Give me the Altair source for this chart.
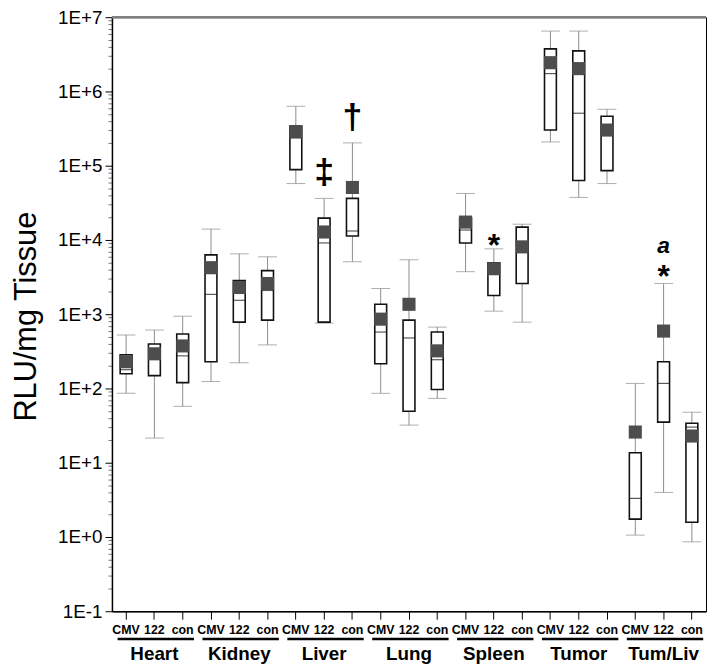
import altair as alt
import pandas as pd

tissues = ["Heart", "Kidney", "Liver", "Lung", "Spleen", "Tumor", "Tum/Liv"]
groups = ["CMV", "122", "con"]

# per box, order: tissue-major, group-minor
whisker_lo = [86, 21.5, 57.5, 124, 222, 386, 57500, 759, 5090, 86, 32.1, 73.6,
              3740, 1100, 782, 209000, 37400, 57500, 1.06, 3.98, 0.86]
q1 = [158, 149, 120, 229, 782, 832, 88500, 782, 11300, 215, 49.3, 97,
      9120, 1790, 2590, 302000, 63100, 85800, 1.74, 35.2, 1.58]
median = [179, 331, 275, 1850, 1540, 2090, 260000, 9120, 13200, 575, 479, 244,
          13600, 3630, 7130, 1740000, 509000, 284000, 3.31, 117, 30.2]
q3 = [284, 398, 541, 6300, 2840, 3860, 341000, 19700, 36300, 1360, 832, 575,
      19700, 4930, 14900, 3740000, 3520000, 464000, 13.6, 229, 34.1]
whisker_hi = [525, 612, 940, 14000, 6500, 5930, 631000, 36300, 203000, 2220, 5410, 671,
              42300, 7590, 16300, 6500000, 6500000, 575000, 117, 2590, 47.9]
mean = [229, 293, 374, 4230, 2290, 2590, 284000, 12800, 50900, 858, 1360, 321,
        17400, 4100, 8070, 2440000, 2030000, 302000, 25.9, 593, 22.9]

# significance marks
dag_slot = ["Liver|122", "Liver|con"]
dag_value = [57500, 311000]
dag_text = ["\u2021", "\u2020"]
star_slot = ["Spleen|122", "Tum/Liv|122"]
star_value = [6120, 2360]
a_slot = ["Tum/Liv|122"]
a_value = [6710]

slots = [f"{t}|{g}" for t in tissues for g in groups]

df = pd.DataFrame({
    "slot": slots,
    "lo": whisker_lo, "q1": q1, "median": median, "q3": q3,
    "hi": whisker_hi, "mean": mean,
})
dag = pd.DataFrame({"slot": dag_slot, "v": dag_value, "txt": dag_text})
star = pd.DataFrame({"slot": star_slot, "v": star_value, "txt": ["*"] * len(star_slot)})
aa = pd.DataFrame({"slot": a_slot, "v": a_value, "txt": ["a"]})
grp = pd.DataFrame({
    "tissue": tissues,
    "first": [f"{t}|CMV" for t in tissues],
    "mid": [f"{t}|122" for t in tissues],
    "last": [f"{t}|con" for t in tissues],
})

FONT = "Liberation Sans"
decades = [10.0 ** k for k in range(-1, 8)]
minor = [m * 10.0 ** k for k in range(-1, 7) for m in range(2, 10)]
tick_vals = sorted(decades + minor)

is_major = "abs(log(datum.value)/LN10 - round(log(datum.value)/LN10)) < 0.01"
exp = "round(log(datum.value)/LN10)"

yscale = alt.Scale(type="log", domain=[0.1, 1e7], nice=False)
xscale = alt.Scale(domain=slots, paddingInner=0, paddingOuter=0)

xenc = alt.X("slot:N", sort=slots, scale=xscale, axis=alt.Axis(
    title=None, labelExpr="split(datum.value, '|')[1]", labelAngle=0,
    labelFont=FONT, labelFontWeight="bold", labelFontSize=12.5, labelColor="black",
    tickSize=8, tickColor="black", domainColor="black", domainWidth=1.5,
    labelPadding=4))

yaxis = alt.Axis(
    title="RLU/mg Tissue", titleFont=FONT, titleFontSize=31, titleFontWeight="normal",
    titleColor="black", titleX=-86, titleY=302, titleAngle=270, titleAlign="center",
    titleBaseline="middle",
    values=tick_vals,
    labelExpr=f"{is_major} ? ('1E' + ({exp} >= 0 ? '+' : '') + {exp}) : ''",
    labelFont=FONT, labelFontSize=19, labelColor="black", labelOverlap=False,
    labelBound=False, labelFlush=False, labelPadding=3,
    tickSize={"condition": {"test": is_major, "value": 7}, "value": 4},
    tickColor={"condition": {"test": is_major, "value": "black"}, "value": "#777777"},
    domainColor="black", domainWidth=1.5, grid=False)

base = alt.Chart(df)

whisk = base.mark_rule(color="#8c8c8c", strokeWidth=1).encode(
    x=xenc, y=alt.Y("lo:Q", scale=yscale, axis=yaxis), y2="hi:Q")
cap_lo = base.mark_tick(color="#8c8c8c", size=19, thickness=1).encode(
    x="slot:N", y="lo:Q")
cap_hi = base.mark_tick(color="#8c8c8c", size=19, thickness=1).encode(
    x="slot:N", y="hi:Q")
box = base.mark_bar(size=12, fill="white", stroke="#111111", strokeWidth=1.6).encode(
    x="slot:N", y="q1:Q", y2="q3:Q")
med = base.mark_tick(color="#111111", size=12, thickness=1.2).encode(
    x="slot:N", y="median:Q")
mn = base.mark_square(size=175, color="#4d4d4d", opacity=1).encode(
    x="slot:N", y="mean:Q")

dag_layer = alt.Chart(dag).mark_text(font=FONT, fontWeight="bold", fontSize=36,
                                     color="black", baseline="alphabetic").encode(
    x="slot:N", y="v:Q", text="txt:N")
star_layer = alt.Chart(star).mark_text(font=FONT, fontWeight="bold", fontSize=32,
                                       color="black", baseline="alphabetic").encode(
    x="slot:N", y="v:Q", text="txt:N")
a_layer = alt.Chart(aa).mark_text(font=FONT, fontWeight="bold", fontStyle="italic",
                                  fontSize=23, color="black", baseline="alphabetic").encode(
    x="slot:N", y="v:Q", text="txt:N")

underline = alt.Chart(grp).mark_rule(color="black", strokeWidth=2.5).encode(
    x=alt.X("first:N", bandPosition=0.2),
    x2=alt.X2("last:N", bandPosition=0.9),
    y=alt.value(628))

names = alt.Chart(grp).mark_text(font=FONT, fontWeight="bold", fontSize=19,
                                 color="black", baseline="alphabetic").encode(
    x="mid:N", y=alt.value(649), text="tissue:N")

topline = alt.Chart(alt.Data(values=[{}])).mark_rule(
    color="#808080", strokeWidth=2.5).encode(
    x=alt.value(0), x2=alt.value(600), y=alt.value(0))

chart = alt.layer(whisk, cap_lo, cap_hi, box, med, mn, dag_layer, star_layer, a_layer,
                  underline, names, topline
).properties(
    width=600, height=600,
    autosize=alt.AutoSizeParams(type="none"),
    padding={"left": 105, "top": 6, "right": 2, "bottom": 50},
).configure_view(stroke="black", strokeWidth=1)

chart.save("out.html", embed_options={"renderer": "svg", "actions": False})
